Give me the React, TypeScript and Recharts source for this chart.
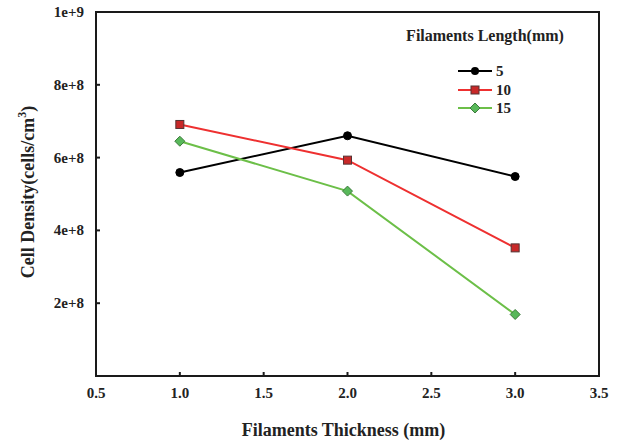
import React from 'react';
import { LineChart, Line, XAxis, YAxis, ReferenceArea, Legend } from 'recharts';

const thickness = [1.0, 2.0, 3.0];
const len5 = [5.59e8, 6.6e8, 5.48e8];
const len10 = [6.91e8, 5.93e8, 3.52e8];
const len15 = [6.45e8, 5.08e8, 1.69e8];
const seriesNames = ['5', '10', '15'];
const xTicks = [0.5, 1.0, 1.5, 2.0, 2.5, 3.0, 3.5];
const xTickLabels = ['0.5', '1.0', '1.5', '2.0', '2.5', '3.0', '3.5'];
const yTicks = [2e8, 4e8, 6e8, 8e8, 1e9];
const yTickLabels = ['2e+8', '4e+8', '6e+8', '8e+8', '1e+9'];

const data = thickness.map((t, i) => ({ t, s5: len5[i], s10: len10[i], s15: len15[i] }));

const FONT = '"Liberation Serif", "Times New Roman", serif';
const AXIS = '#1a1a1a';
const BLACK = '#000000';
const RED = '#ee3030';
const RED_FILL = '#c82828';
const GREEN = '#6cbf48';
const GREEN_FILL = '#58b85a';

const XTick = (props: any) => {
  const { x, y, payload } = props;
  const i = xTicks.indexOf(payload.value);
  return (
    <g>
      <line x1={x} x2={x} y1={y} y2={y - 4} stroke={AXIS} strokeWidth={2} />
      <text x={x} y={y + 22} textAnchor="middle" fontFamily={FONT} fontWeight="bold" fontSize={15} fill="#222">
        {i >= 0 ? xTickLabels[i] : payload.value}
      </text>
    </g>
  );
};

const YTick = (props: any) => {
  const { x, y, payload } = props;
  const i = yTicks.indexOf(payload.value);
  return (
    <g>
      <line x1={x} x2={x + 4} y1={y} y2={y} stroke={AXIS} strokeWidth={2} />
      <text x={x - 12} y={y + 5} textAnchor="end" fontFamily={FONT} fontWeight="bold" fontSize={15} fill="#222">
        {i >= 0 ? yTickLabels[i] : payload.value}
      </text>
    </g>
  );
};

const YLabel = (props: any) => {
  const vb = props.viewBox || { x: 0, y: 12, width: 96, height: 364 };
  const cx = vb.x + 30;
  const cy = vb.y + vb.height / 2 - 2;
  return (
    <text
      x={cx}
      y={cy}
      transform={`rotate(-90 ${cx} ${cy})`}
      textAnchor="middle"
      dominantBaseline="middle"
      fontFamily={FONT}
      fontWeight="bold"
      fontSize={18}
      fill="#222"
    >
      <tspan>Cell Density(cells/cm</tspan>
      <tspan fontSize={12} dy={-7}>3</tspan>
      <tspan dy={7}>)</tspan>
    </text>
  );
};

const XLabel = (props: any) => {
  const vb = props.viewBox || { x: 96, y: 376, width: 503, height: 69 };
  return (
    <text
      x={vb.x + vb.width / 2 - 4}
      y={vb.y + 60}
      textAnchor="middle"
      fontFamily={FONT}
      fontWeight="bold"
      fontSize={18}
      fill="#222"
    >
      Filaments Thickness (mm)
    </text>
  );
};

const CircleDot = (props: any) => {
  const { cx, cy } = props;
  return <circle key={`c-${cx}-${cy}`} cx={cx} cy={cy} r={4} fill={BLACK} stroke={BLACK} />;
};
const SquareDot = (props: any) => {
  const { cx, cy } = props;
  return <rect key={`s-${cx}-${cy}`} x={cx - 4} y={cy - 4} width={8} height={8} fill={RED_FILL} stroke="#553333" strokeWidth={1} />;
};
const DiamondDot = (props: any) => {
  const { cx, cy } = props;
  return (
    <polygon
      key={`d-${cx}-${cy}`}
      points={`${cx},${cy - 5} ${cx + 5},${cy} ${cx},${cy + 5} ${cx - 5},${cy}`}
      fill={GREEN_FILL}
      stroke="#3c7a3c"
      strokeWidth={1}
    />
  );
};

const legendItems = [
  { name: seriesNames[0], color: BLACK, marker: 'circle' },
  { name: seriesNames[1], color: RED, marker: 'square' },
  { name: seriesNames[2], color: GREEN, marker: 'diamond' },
];

const LegendContent = () => (
  <div style={{ fontFamily: FONT, fontWeight: 'bold', color: '#222' }}>
    <div style={{ fontSize: 16, lineHeight: '20px', textAlign: 'center', width: 200 }}>Filaments Length(mm)</div>
    <div style={{ marginTop: 16, marginLeft: 73 }}>
      {legendItems.map((it) => (
        <div key={it.name} style={{ display: 'flex', alignItems: 'center', height: 18.5 }}>
          <svg width={34} height={12} style={{ display: 'block' }}>
            <line x1={0} x2={34} y1={6} y2={6} stroke={it.color} strokeWidth={2} />
            {it.marker === 'circle' && <circle cx={17} cy={6} r={4} fill={BLACK} />}
            {it.marker === 'square' && <rect x={13} y={2} width={8} height={8} fill={RED_FILL} stroke="#553333" />}
            {it.marker === 'diamond' && <polygon points="17,1 22,6 17,11 12,6" fill={GREEN_FILL} stroke="#3c7a3c" />}
          </svg>
          <span style={{ fontSize: 15, marginLeft: 4, lineHeight: '18px' }}>{it.name}</span>
        </div>
      ))}
    </div>
  </div>
);

export default function App() {
  return (
    <div style={{ position: 'absolute', left: 0, top: 0, width: 623, height: 445, background: '#fff' }}>
      <LineChart width={623} height={445} data={data} margin={{ top: 12, right: 24, left: 0, bottom: 0 }}>
        <XAxis
          dataKey="t"
          type="number"
          domain={[0.5, 3.5]}
          ticks={xTicks}
          height={69}
          tickSize={0}
          tickMargin={0}
          tickLine={false}
          axisLine={false}
          tick={<XTick />}
          interval={0}
          label={<XLabel />}
        />
        <YAxis
          type="number"
          domain={[0, 1e9]}
          ticks={yTicks}
          width={96}
          tickSize={0}
          tickMargin={0}
          tickLine={false}
          axisLine={false}
          tick={<YTick />}
          interval={0}
          label={<YLabel />}
        />
        <ReferenceArea x1={0.5} x2={3.5} y1={0} y2={1e9} fill="none" fillOpacity={0} stroke={AXIS} strokeWidth={2} ifOverflow="visible" />
        <Legend
          layout="vertical"
          align="center"
          verticalAlign="middle"
          content={<LegendContent />}
          wrapperStyle={{ left: 385, top: 26, width: 200, right: 'auto', bottom: 'auto' }}
        />
        <Line dataKey="s5" name={seriesNames[0]} stroke={BLACK} strokeWidth={2} dot={<CircleDot />} isAnimationActive={false} />
        <Line dataKey="s10" name={seriesNames[1]} stroke={RED} strokeWidth={2} dot={<SquareDot />} isAnimationActive={false} />
        <Line dataKey="s15" name={seriesNames[2]} stroke={GREEN} strokeWidth={2} dot={<DiamondDot />} isAnimationActive={false} />
      </LineChart>
    </div>
  );
}
